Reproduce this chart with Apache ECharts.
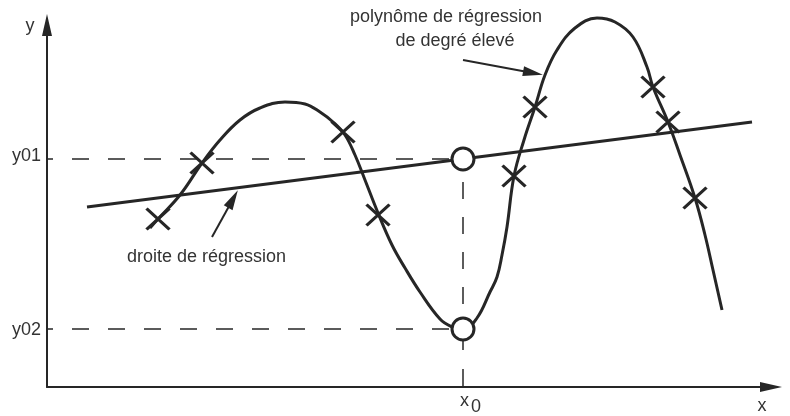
<!DOCTYPE html>
<html>
<head>
<meta charset="utf-8">
<script src="https://cdn.jsdelivr.net/npm/echarts@6/dist/echarts.min.js"></script>
<style>
  html, body { margin: 0; padding: 0; background: #fff; }
  #chart { width: 790px; height: 416px; }
</style>
</head>
<body>
<div id="chart"></div>
<script>
// 坐标单位：以原点为零，向右 / 向上计
const curveX = [103, 111, 133, 155, 173, 193, 213, 238, 258, 273, 286, 298, 308, 318, 331, 345, 358, 373, 393, 405, 416, 430, 443, 450, 455, 460, 467, 477, 488, 498, 510, 528, 550, 568, 586, 600, 606, 621, 633, 648, 658, 666, 675]
const curveY = [159, 168, 192, 224, 247, 267, 279, 285, 283, 275, 265, 252, 232, 207, 174, 142, 119, 95, 68, 60, 57, 69, 95, 110, 132, 160, 211, 247, 280, 312, 337, 359, 369, 365, 350, 320, 300, 265, 232, 189, 152, 117, 77]

const pointX = [111, 155, 296, 331, 467, 488, 606, 621, 648]
const pointY = [168, 224, 255, 172, 211, 280, 300, 265, 189]

const lineX = [40, 705]
const lineY = [180, 265]

const x0 = 416
const y01 = 228
const y02 = 58

// 注释箭头 [起点, 终点]
const arrowDroite = [[165, 150], [186, 188]]
const arrowPoly = [[416, 327], [486, 314]]

const INK = '#262626'
const FONT = 'Liberation Sans'

const chart = echarts.init(document.getElementById('chart'))

const zip = (xs, ys) => xs.map((x, i) => [x, ys[i]])

function text(str, x, y, opts) {
  return {
    type: 'text',
    x: x,
    y: y,
    style: Object.assign({
      text: str,
      fill: '#333',
      font: '18px "' + FONT + '"',
      textVerticalAlign: 'middle'
    }, opts || {})
  }
}

chart.setOption({
  backgroundColor: '#fff',
  animation: false,
  grid: { left: 47, right: 19, top: 25, bottom: 29 },
  xAxis: {
    type: 'value',
    min: 0,
    max: 724,
    axisLine: {
      lineStyle: { color: INK, width: 2 },
      symbol: ['none', 'triangle'],
      symbolSize: [10, 22]
    },
    axisTick: { show: false },
    axisLabel: { show: false },
    splitLine: { show: false }
  },
  yAxis: {
    type: 'value',
    min: 0,
    max: 362,
    axisLine: {
      show: true,
      lineStyle: { color: INK, width: 2 },
      symbol: ['none', 'triangle'],
      symbolSize: [10, 22]
    },
    axisTick: { show: false },
    axisLabel: { show: false },
    splitLine: { show: false }
  },
  series: [
    {
      // 虚线 y01
      type: 'line',
      data: [[0, y01], [x0, y01]],
      symbol: 'none',
      silent: true,
      lineStyle: { color: INK, width: 1.5, type: [17, 19], dashOffset: 11 }
    },
    {
      // 虚线 y02
      type: 'line',
      data: [[0, y02], [x0, y02]],
      symbol: 'none',
      silent: true,
      lineStyle: { color: INK, width: 1.5, type: [17, 19], dashOffset: 11 }
    },
    {
      type: 'line',
      data: [[x0, y01], [x0, y02]],
      symbol: 'none',
      silent: true,
      lineStyle: { color: INK, width: 1.5, type: [17, 18], dashOffset: 12 }
    },
    {
      type: 'line',
      data: [[x0, 0], [x0, y02]],
      symbol: 'none',
      silent: true,
      lineStyle: { color: INK, width: 1.5, type: [18, 19] }
    },
    {
      name: 'droite de régression',
      type: 'line',
      data: zip(lineX, lineY),
      symbol: 'none',
      lineStyle: { color: INK, width: 3 },
      markLine: {
        silent: true,
        symbol: ['none', 'triangle'],
        symbolSize: [10, 20],
        label: { show: false },
        lineStyle: { color: INK, width: 2, type: 'solid' },
        data: [
          [{ coord: arrowDroite[0] }, { coord: arrowDroite[1] }],
          [{ coord: arrowPoly[0] }, { coord: arrowPoly[1] }]
        ]
      }
    },
    {
      name: 'polynôme de régression',
      type: 'line',
      data: zip(curveX, curveY),
      smooth: 0.4,
      clip: false,
      symbol: 'none',
      lineStyle: { color: INK, width: 3 }
    },
    {
      type: 'scatter',
      data: zip(pointX, pointY),
      symbol: 'path://M0,0L20,18M20,0L0,18',
      symbolSize: [23, 21],
      itemStyle: { color: 'transparent', borderColor: INK, borderWidth: 3.2, opacity: 1 },
      z: 5
    },
    {
      type: 'scatter',
      data: [[x0, y01], [x0, y02]],
      symbol: 'circle',
      symbolSize: 22,
      itemStyle: { color: '#fff', borderColor: INK, borderWidth: 3, opacity: 1 },
      z: 6
    }
  ],
  graphic: [
    text('y', 30, 26, { textAlign: 'center' }),
    text('x', 762, 406, { textAlign: 'center' }),
    text('y01', 12, 156),
    text('y02', 12, 330),
    text('x', 460, 401),
    text('0', 471, 407),
    text('polynôme de régression', 446, 17, { textAlign: 'center' }),
    text('de degré élevé', 455, 41, { textAlign: 'center' }),
    text('droite de régression', 127, 257)
  ]
})
</script>
</body>
</html>
